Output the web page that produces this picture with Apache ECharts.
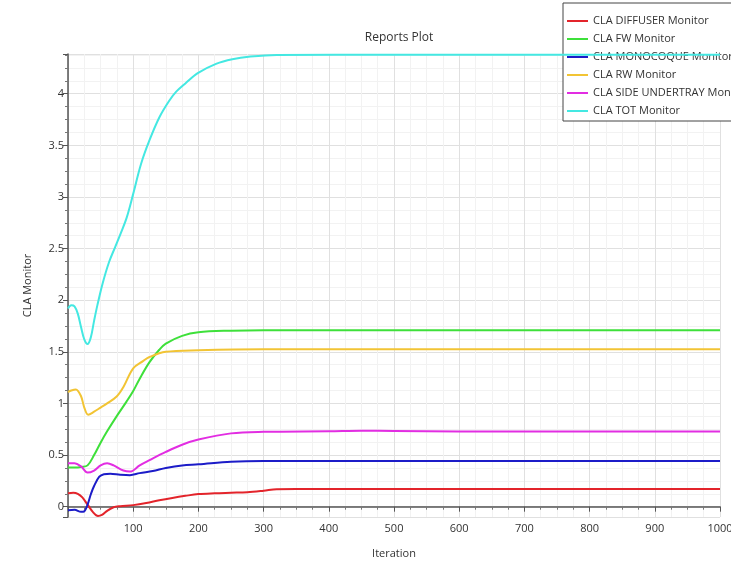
<!DOCTYPE html>
<html>
<head>
<meta charset="utf-8">
<script src="https://cdn.jsdelivr.net/npm/echarts@6/dist/echarts.min.js"></script>
<style>
  html, body { margin: 0; padding: 0; background: #fff; }
  #chart { width: 731px; height: 561px; }
</style>
</head>
<body>
<div id="chart"></div>
<script>
// Monitor histories: [iteration, CLA]
const diffuser = [[0,0.13],[8,0.135],[15,0.125],[22,0.09],[30,0.02],[38,-0.05],[46,-0.09],[52,-0.08],[60,-0.04],[70,-0.005],[80,0.005],[100,0.015],[120,0.035],[140,0.062],[160,0.085],[180,0.105],[200,0.122],[225,0.13],[250,0.135],[275,0.14],[300,0.155],[320,0.17],[350,0.172],[500,0.172],[700,0.172],[1000,0.172]];
const fw = [[0,0.38],[10,0.38],[20,0.385],[30,0.4],[40,0.5],[50,0.62],[60,0.73],[75,0.88],[90,1.02],[100,1.12],[110,1.24],[125,1.4],[140,1.52],[150,1.58],[175,1.655],[200,1.69],[250,1.705],[300,1.71],[500,1.71],[700,1.71],[1000,1.71]];
const monocoque = [[0,-0.035],[10,-0.03],[20,-0.05],[25,-0.045],[30,0.02],[35,0.12],[40,0.2],[48,0.29],[55,0.315],[65,0.32],[80,0.31],[95,0.305],[110,0.325],[130,0.345],[150,0.375],[175,0.4],[200,0.41],[250,0.435],[300,0.442],[500,0.442],[700,0.442],[1000,0.442]];
const rw = [[0,1.11],[5,1.125],[12,1.135],[20,1.07],[25,0.96],[31,0.89],[40,0.92],[50,0.96],[60,1.0],[75,1.07],[85,1.16],[100,1.34],[115,1.41],[125,1.45],[150,1.5],[200,1.515],[300,1.525],[500,1.525],[700,1.525],[1000,1.525]];
const sideUndertray = [[0,0.42],[10,0.42],[20,0.39],[30,0.33],[40,0.35],[50,0.4],[60,0.42],[70,0.4],[85,0.35],[95,0.34],[110,0.4],[125,0.45],[150,0.53],[175,0.6],[200,0.65],[250,0.71],[300,0.725],[400,0.73],[450,0.735],[500,0.733],[600,0.728],[800,0.728],[1000,0.728]];
const tot = [[0,1.92],[5,1.95],[10,1.94],[15,1.87],[20,1.74],[25,1.62],[30,1.575],[35,1.64],[40,1.8],[45,1.95],[53,2.16],[63,2.37],[72,2.51],[81,2.65],[90,2.8],[100,3.03],[112,3.32],[125,3.55],[140,3.77],[155,3.93],[166,4.02],[180,4.1],[199,4.2],[227,4.29],[252,4.335],[280,4.36],[320,4.375],[500,4.377],[700,4.377],[1000,4.377]];

const seriesNames = ['CLA DIFFUSER Monitor','CLA FW Monitor','CLA MONOCOQUE Monitor','CLA RW Monitor','CLA SIDE UNDERTRAY Monitor','CLA TOT Monitor'];
const seriesData = [diffuser, fw, monocoque, rw, sideUndertray, tot];
const seriesColors = ['#e3242b','#3ee03a','#1c1cc8','#f2c434','#e22de2','#44e8e2'];

const FONT = '"Open Sans", "Noto Sans", sans-serif';
const chart = echarts.init(document.getElementById('chart'), null, { renderer: 'canvas' });

chart.setOption({
  animation: false,
  backgroundColor: '#ffffff',
  title: {
    text: 'Reports Plot',
    left: 394, top: 27, textAlign: 'center',
    textStyle: { fontFamily: FONT, fontSize: 12, fontWeight: 'normal', color: '#333' }
  },
  legend: {
    orient: 'vertical',
    left: 563, top: 3,
    padding: [11, 40, 3, 4],
    backgroundColor: '#fff',
    borderColor: '#444', borderWidth: 1,
    icon: 'rect', itemWidth: 21, itemHeight: 2, itemGap: 4, itemTextGap: 3,
    textStyle: { fontFamily: FONT, fontSize: 11, color: '#333', lineHeight: 14 },
    data: seriesNames
  },
  grid: { left: 68, right: 11, top: 54, bottom: 44, containLabel: false, outerBoundsMode: 'none' },
  xAxis: {
    type: 'value', min: 0, max: 1000, interval: 100,
    name: 'Iteration', nameLocation: 'middle', nameGap: 31,
    nameTextStyle: { fontFamily: FONT, fontSize: 11, color: '#333' },
    axisLine: { show: true, lineStyle: { color: '#555', width: 1.5 } },
    axisTick: { show: true, length: 5, lineStyle: { color: '#555' } },
    minorTick: { show: true, splitNumber: 4, length: 3, lineStyle: { color: '#777' } },
    axisLabel: { fontFamily: FONT, fontSize: 11, color: '#333', margin: 6,
      formatter: v => (v === 0 ? '' : String(v)) },
    splitLine: { show: true, lineStyle: { color: '#e0e0e0', width: 1 } },
    minorSplitLine: { show: true, lineStyle: { color: '#f2f2f2', width: 1 } }
  },
  yAxis: {
    type: 'value', min: -0.1, max: 4.385, splitNumber: 9,
    name: 'CLA Monitor', nameLocation: 'middle', nameGap: 35,
    nameTextStyle: { fontFamily: FONT, fontSize: 11, color: '#333' },
    axisLine: { show: true, lineStyle: { color: '#555', width: 1.5 } },
    axisTick: { show: true, length: 5, lineStyle: { color: '#555' } },
    minorTick: { show: true, splitNumber: 4, length: 3, lineStyle: { color: '#777' } },
    axisLabel: { fontFamily: FONT, fontSize: 11, color: '#333', margin: 4,
      formatter: v => {
        const r = Math.round(v * 2) / 2;
        return Math.abs(r - v) < 1e-6 ? String(r) : '';
      } },
    splitLine: { show: true, lineStyle: { color: '#e0e0e0', width: 1 } },
    minorSplitLine: { show: true, lineStyle: { color: '#f2f2f2', width: 1 } }
  },
  series: seriesNames.map((name, i) => ({
    name,
    type: 'line',
    data: seriesData[i],
    smooth: 0.35,
    showSymbol: false,
    symbol: 'none',
    color: seriesColors[i],
    lineStyle: { width: 2, color: seriesColors[i] },
    z: 2 + i
  }))
});
</script>
</body>
</html>
